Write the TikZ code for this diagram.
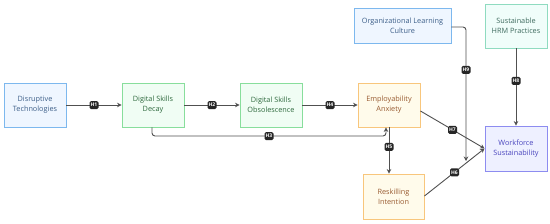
\documentclass[tikz,border=0pt]{standalone}
\usepackage{fontspec}
\setmainfont{Open Sans}
\usetikzlibrary{arrows.meta}
\definecolor{bfill}{HTML}{EFF6FF}\definecolor{bdraw}{HTML}{7DB8EE}\definecolor{btext}{HTML}{3C5E88}
\definecolor{gfill}{HTML}{F0FDF4}\definecolor{gdraw}{HTML}{88DE9C}\definecolor{gtext}{HTML}{2F6A3E}
\definecolor{afill}{HTML}{FFFBEB}\definecolor{adraw}{HTML}{F8C67C}\definecolor{atext}{HTML}{985A30}
\definecolor{pfill}{HTML}{EEF0FF}\definecolor{pdraw}{HTML}{8D8CF0}\definecolor{ptext}{HTML}{4A45BE}
\definecolor{tfill}{HTML}{F0FDFA}\definecolor{tdraw}{HTML}{8FDBC0}\definecolor{ttext}{HTML}{3E6A5E}
\definecolor{edge}{HTML}{505050}
\tikzset{
  box/.style={draw, line width=0.9pt, minimum width=62pt, minimum height=44pt, align=center, font=\fontsize{7.3}{10}\selectfont, inner sep=1pt},
  bluebox/.style={box, fill=bfill, draw=bdraw, text=btext},
  greenbox/.style={box, fill=gfill, draw=gdraw, text=gtext},
  amberbox/.style={box, fill=afill, draw=adraw, text=atext},
  purplebox/.style={box, fill=pfill, draw=pdraw, text=ptext},
  tealbox/.style={box, fill=tfill, draw=tdraw, text=ttext},
  conn/.style={draw=edge, line width=0.9pt, -{Stealth[length=4.5pt,width=4.5pt]}},
  hlab/.style={fill=black!85, text=white, rounded corners=1.5pt, inner sep=1pt, minimum width=9pt, minimum height=8pt, font=\fontsize{5}{6}\selectfont\bfseries}
}
\begin{document}
\begin{tikzpicture}[x=1pt,y=-1pt]
\useasboundingbox[fill=white] (0,0) rectangle (550,223);
\node[bluebox] (dt) at (35,105) {Disruptive\\Technologies};
\node[greenbox] (dsd) at (153,105) {Digital Skills\\Decay};
\node[greenbox] (dso) at (271,105) {Digital Skills\\Obsolescence};
\node[amberbox] (ea) at (389,105) {Employability\\Anxiety};
\node[bluebox, minimum width=97pt, minimum height=35pt] (olc) at (402.5,25.5) {Organizational Learning\\Culture};
\node[tealbox] (shrm) at (516,26) {Sustainable\\HRM Practices};
\node[purplebox, minimum height=45pt] (ws) at (516,148.5) {Workforce\\Sustainability};
\node[amberbox, minimum width=61pt, minimum height=45pt] (ri) at (393.5,196.5) {Reskilling\\Intention};
\coordinate (h9end) at (466,161);
\draw[conn] (dt) -- node[hlab]{H1} (dsd);
\draw[conn] (dsd) -- node[hlab]{H2} (dso);
\draw[conn] (dso) -- node[hlab]{H4} (ea);
\draw[conn, rounded corners=3pt] (dsd.south -| 152,0) -- (152,136) -- node[hlab, pos=0.5]{H3} (386,136) -- (ea.south -| 386,0);
\draw[conn] (ea.south -| 389,0) -- node[hlab, pos=0.42]{H5} (ri.north -| 389,0);
\draw[conn] (shrm) -- node[hlab, pos=0.42]{H8} (ws);
\draw[conn, rounded corners=3pt] (olc.east |- 0,27) -- (466,27) -- node[hlab, pos=0.32]{H9} (h9end);
\draw[conn] (ea.east |- 0,111) -- node[hlab, pos=0.5]{H7} (ws.west);
\draw[conn] (ri.east |- 0,196) -- node[hlab, pos=0.5]{H6} (ws.west);
\end{tikzpicture}
\end{document}
